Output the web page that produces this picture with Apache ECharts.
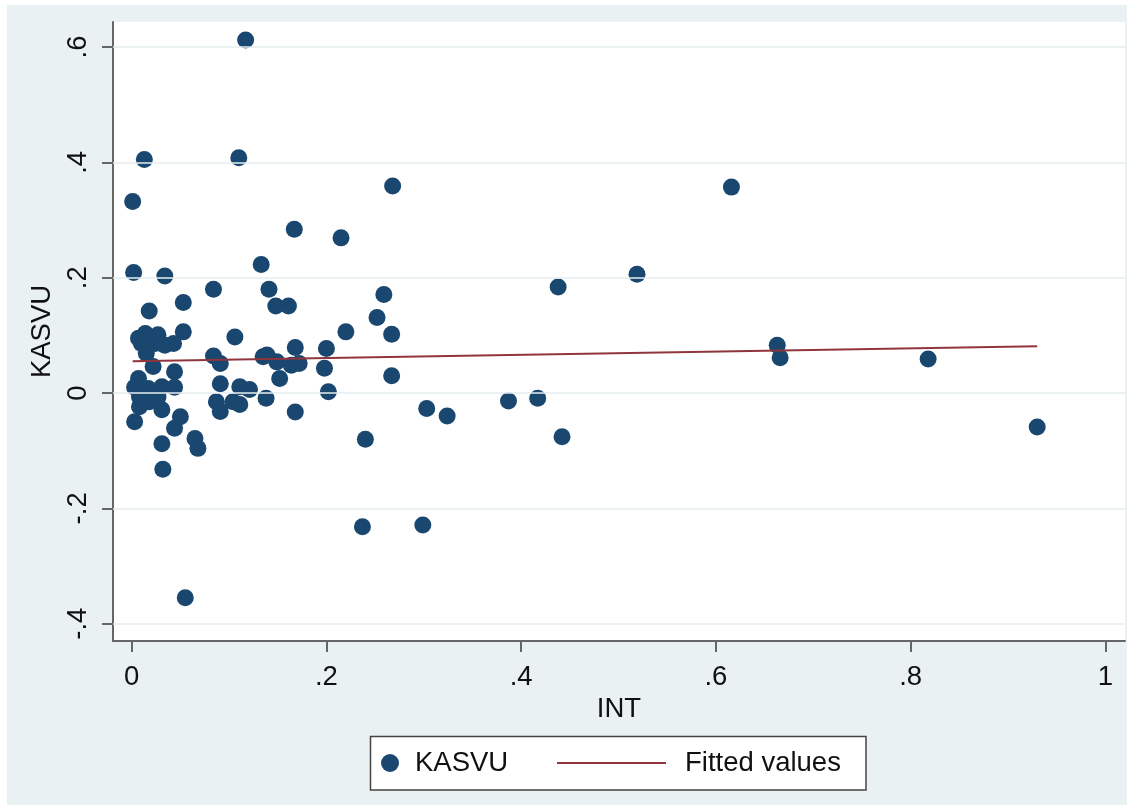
<!DOCTYPE html>
<html><head><meta charset="utf-8">
<script src="https://cdn.jsdelivr.net/npm/echarts@6/dist/echarts.min.js"></script>
<style>
html,body{margin:0;padding:0;background:#fff;width:1134px;height:805px;overflow:hidden}
#c{position:absolute;left:7px;top:5px;width:1120px;height:800px}
</style>
</head><body><div id="c"></div>
<script>
// INT (x) and KASVU (y)
const intValues = [0.117,0.013,0.110,0.001,0.268,0.616,0.167,0.215,0.133,0.002,0.034,0.519,0.438,0.084,0.141,0.259,0.053,0.148,0.161,0.018,0.252,0.220,0.053,0.267,0.014,0.007,0.027,0.106,0.043,0.034,0.024,0.010,0.015,0.663,0.168,0.200,0.135,0.139,0.149,0.164,0.172,0.666,0.818,0.084,0.091,0.022,0.198,0.044,0.152,0.267,0.007,0.091,0.111,0.121,0.031,0.044,0.003,0.017,0.202,0.008,0.027,0.008,0.031,0.018,0.087,0.091,0.104,0.111,0.138,0.168,0.303,0.324,0.387,0.417,0.442,0.240,0.003,0.050,0.044,0.065,0.068,0.031,0.032,0.055,0.237,0.299,0.930];
const kasvuValues = [0.612,0.405,0.408,0.332,0.359,0.357,0.284,0.269,0.223,0.209,0.203,0.206,0.184,0.180,0.180,0.171,0.157,0.151,0.151,0.142,0.131,0.106,0.106,0.102,0.103,0.095,0.101,0.097,0.086,0.083,0.086,0.086,0.069,0.083,0.079,0.077,0.063,0.066,0.054,0.048,0.051,0.061,0.059,0.064,0.051,0.046,0.043,0.037,0.025,0.030,0.025,0.016,0.011,0.006,0.011,0.010,0.010,0.008,0.002,-0.007,-0.007,-0.024,-0.029,-0.015,-0.015,-0.032,-0.015,-0.020,-0.009,-0.033,-0.027,-0.040,-0.014,-0.009,-0.076,-0.080,-0.050,-0.041,-0.061,-0.079,-0.096,-0.088,-0.132,-0.355,-0.232,-0.229,-0.059];
const fittedX = [0.001, 0.930];
const fittedY = [0.055, 0.081];
const xTicks = [0, 0.2, 0.4, 0.6, 0.8, 1];
const yTicks = [-0.4, -0.2, 0, 0.2, 0.4, 0.6];

const scatterData = intValues.map((x, i) => [x, kasvuValues[i]]);
const fittedData = fittedX.map((x, i) => [x, fittedY[i]]);

function fmt(v) {
  if (Math.abs(v) < 1e-9) return '0';
  return (+v.toFixed(2)).toString().replace('0.', '.');
}
const FONT = 'Liberation Sans, Arial, sans-serif';
const TXT = '#111';
const AX = '#666';
const FS = 27.5;

const chart = echarts.init(document.getElementById('c'), null, {renderer: 'canvas'});
chart.setOption({
  backgroundColor: '#eaf1f2',
  animation: false,
  textStyle: {fontFamily: FONT},
  grid: {left: 106, top: 17, width: 1012, height: 619, show: true, backgroundColor: '#ffffff', borderWidth: 0},
  xAxis: {
    type: 'value', min: -0.0192, max: 1.0202,
    name: 'INT', nameLocation: 'middle', nameGap: 51,
    nameTextStyle: {fontSize: FS, color: TXT, fontFamily: FONT},
    axisLine: {show: true, onZero: false, lineStyle: {color: AX, width: 2}},
    axisTick: {show: true, length: 11, customValues: xTicks, lineStyle: {color: AX, width: 2}},
    axisLabel: {customValues: xTicks, formatter: fmt, fontSize: FS, color: TXT, margin: 22, fontFamily: FONT},
    splitLine: {show: false}
  },
  yAxis: {
    type: 'value', min: -0.430, max: 0.6433,
    name: 'KASVU', nameLocation: 'middle', nameGap: 55,
    nameTextStyle: {fontSize: FS, color: TXT, fontFamily: FONT},
    axisLine: {show: true, onZero: false, lineStyle: {color: AX, width: 2}},
    axisTick: {show: true, length: 11, customValues: yTicks, lineStyle: {color: AX, width: 2}},
    axisLabel: {customValues: yTicks, formatter: fmt, fontSize: FS, color: TXT, margin: 21, rotate: 90, fontFamily: FONT},
    splitLine: {show: false}
  },
  graphic: [{
    type: 'rect', z: 1,
    shape: {x: 363.5, y: 731.5, width: 495.5, height: 53.5},
    style: {fill: '#ffffff', stroke: '#444', lineWidth: 1.5}
  }],
  legend: [{
    data: ['KASVU'], left: 374, top: 743, padding: 0,
    itemWidth: 18, itemHeight: 18, icon: 'circle',
    textStyle: {fontSize: FS, color: TXT, lineHeight: 30, padding: [0, 0, 0, 11], fontFamily: FONT}
  }, {
    data: [{name: 'Fitted values', icon: 'rect'}], left: 550, top: 743, padding: 0,
    itemWidth: 109, itemHeight: 2,
    itemStyle: {color: '#90353b', borderWidth: 0},
    lineStyle: {width: 0},
    textStyle: {fontSize: FS, color: TXT, lineHeight: 30, padding: [0, 0, 0, 14], fontFamily: FONT}
  }],
  series: [{
    name: 'grid', type: 'line', data: [], z: 1, silent: true,
    markLine: {
      silent: true, symbol: ['none', 'none'], animation: false,
      label: {show: false},
      lineStyle: {color: '#e6eef0', type: 'solid', width: 1.5},
      data: yTicks.map(v => ({yAxis: v}))
    }
  }, {
    name: 'KASVU', type: 'scatter', data: scatterData, z: 3,
    symbol: 'circle', symbolSize: 17,
    itemStyle: {color: '#1a476f', opacity: 1}
  }, {
    name: 'Fitted values', type: 'line', data: fittedData, z: 4,
    symbol: 'none', showSymbol: false,
    lineStyle: {color: '#90353b', width: 2},
    itemStyle: {color: '#90353b'}
  }]
});
</script>
</body></html>
